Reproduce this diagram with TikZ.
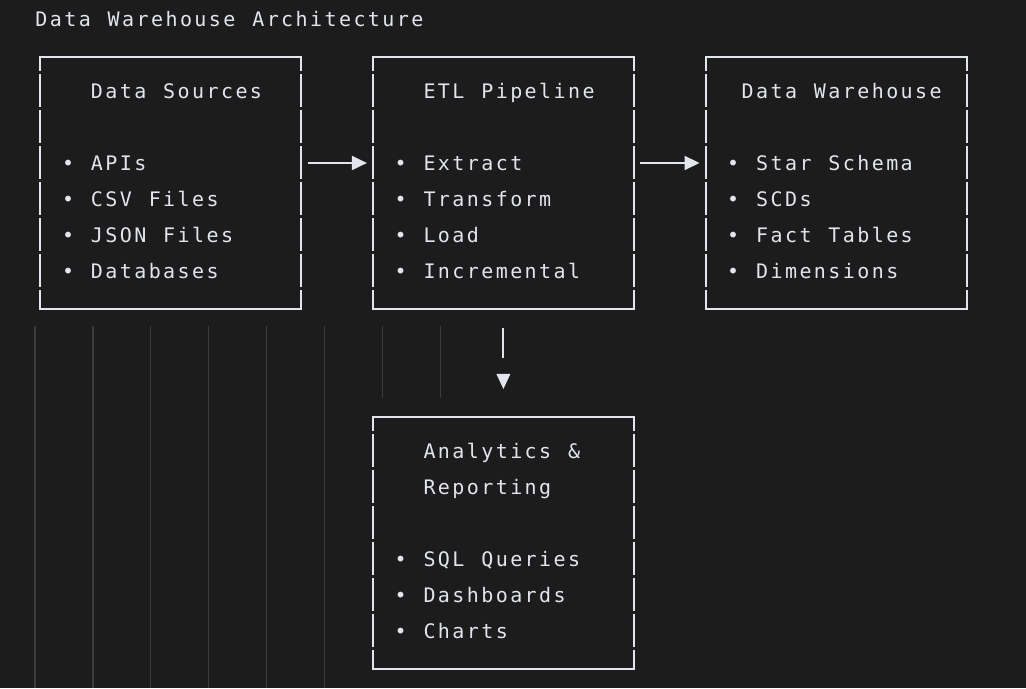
\documentclass[tikz,border=0pt]{standalone}
\usepackage{fontspec}
\newfontfamily\termfont{DejaVu Sans Mono}
% terminal grid: 10pt glyphs on 7.23pt cells
\newlength\cellw
\setlength\cellw{7.23pt}
\XeTeXinterchartoks 0 0 = {\kern1.21pt}
\newcommand\termspace{\spaceskip=8.44pt\relax}
\newcommand\termtext{\termfont\fontsize{10}{18}\selectfont
  \XeTeXinterchartokenstate=1 \termspace}
\usepackage{xcolor}
\definecolor{mybg}{RGB}{28,28,28}
\definecolor{myfg}{RGB}{226,229,238}
\definecolor{myguide}{RGB}{60,60,60}
\usepackage{tikz}
\usetikzlibrary{positioning,arrows.meta}

\begin{document}
\begin{tikzpicture}[font=\termtext,text=myfg,
    box/.style={minimum height=126pt,text width=108.8pt,inner xsep=10.85pt,
                inner ysep=0pt,outer sep=0pt,text height=5.8pt,align=left,
                execute at begin node=\termspace},
    rim/.style={myfg,line width=1pt},
    flow/.style={myfg,line width=1pt,-{Triangle[length=7.5pt,width=7pt]}}]
    \fill[mybg] (0,0) rectangle (513pt,-344pt);
    % indent guides
    \foreach \x in {17.5,46.45,75.4,104.35,133.3,162.25}
      \draw[myguide,line width=0.6pt] (\x pt,-163pt) -- (\x pt,-344pt);
    \foreach \x in {191.2,220.15}
      \draw[myguide,line width=0.6pt] (\x pt,-163pt) -- (\x pt,-199pt);

    \node[anchor=base west,inner sep=0pt](title) at (17.5pt,-13.35pt){Data Warehouse Architecture};
    \node[box](src) at (85.4pt,-91.5pt)
      {\hspace*{2\cellw}Data Sources\\[18pt] • APIs\\ • CSV Files\\ • JSON Files\\ • Databases};
    \node[box,right=35.8pt of src](etl)
      {\hspace*{2\cellw}ETL Pipeline\\[18pt] • Extract\\ • Transform\\ • Load\\ • Incremental};
    \node[box,right=35.8pt of etl](dwh)
      {\hspace*{\cellw}Data Warehouse\\[18pt] • Star Schema\\ • SCDs\\ • Fact Tables\\ • Dimensions};
    \node[box,below=53.85pt of etl](ana)
      {\hspace*{2\cellw}Analytics \&\\ \hspace*{2\cellw}Reporting\\[18pt] • SQL Queries\\ • Dashboards\\ • Charts};

    % box borders, sides broken per row
    \foreach \b in {src,etl,dwh,ana}{
      \draw[rim,line cap=rect] (\b.north west) -- (\b.north east) (\b.south west) -- (\b.south east);
      \draw[rim,dash pattern=on 16.4pt off 1.6pt,dash phase=9.4pt]
        (\b.north west) -- (\b.south west) (\b.north east) -- (\b.south east);
    }

    \draw[flow]([xshift=3.25pt,yshift=10pt]src.east)--([xshift=-3pt,yshift=10pt]etl.west);
    \draw[flow]([xshift=3.25pt,yshift=10pt]etl.east)--([xshift=-3pt,yshift=10pt]dwh.west);
    % down connector: bar, then a detached head
    \draw[rim]([yshift=-9.5pt]etl.south)--([yshift=-24.5pt]etl.south);
    \fill[myfg]([yshift=13.85pt]ana.north)--++(-3.5pt,7.5pt)--++(7pt,0pt)--cycle;
\end{tikzpicture}
\end{document}
